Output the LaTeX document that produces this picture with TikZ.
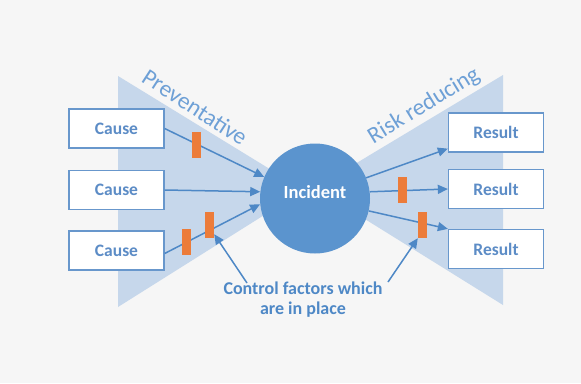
\documentclass[tikz,border=0pt]{standalone}
\usepackage{fontspec}
\setmainfont{Carlito}
\usetikzlibrary{arrows.meta}
\definecolor{bgpage}{RGB}{246,246,246}
\definecolor{trapfill}{RGB}{198,215,235}
\definecolor{circfill}{RGB}{91,148,206}
\definecolor{arrcol}{RGB}{78,136,198}
\definecolor{boxline}{RGB}{104,151,204}
\definecolor{boxtext}{RGB}{92,140,198}
\definecolor{labtext}{RGB}{110,160,214}
\definecolor{barfill}{RGB}{236,124,58}
\tikzset{
  box/.style={draw=boxline, line width=1.3pt, fill=white, minimum width=95pt, minimum height=39pt, inner sep=0pt, font=\fontsize{17.5}{20}\selectfont\bfseries, text=boxtext},
  arr/.style={draw=arrcol, line width=1.5pt, -{Triangle[length=10pt,width=9pt]}},
  bar/.style={fill=barfill, minimum width=9pt, minimum height=26pt, inner sep=0pt},
  side/.style={font=\fontsize{23.5}{25}\selectfont, text=labtext, inner sep=0pt}
}
\begin{document}
\begin{tikzpicture}[x=1pt,y=-1pt]
\useasboundingbox (0,0) rectangle (581,383);
\fill[bgpage] (0,0) rectangle (581,383);
% bow-tie wedges
\fill[trapfill] (118,76) -- (304,190) -- (118,307) -- cycle;
\fill[trapfill] (503,75) -- (315,188) -- (503,305) -- cycle;
% side labels
\node[side, rotate=-33] (prev) at (195,107) {Preventative};
\node[side, rotate=31.5] (risk) at (424,106) {Risk reducing};
% boxes
\node[box] (c1) at (116.5,128.5) {Cause};
\node[box] (c2) at (116.5,190) {Cause};
\node[box] (c3) at (116.5,250.5) {Cause};
\node[box] (r1) at (496,132.5) {Result};
\node[box] (r2) at (496,189) {Result};
\node[box] (r3) at (496,249) {Result};
% incident
\node[circle, fill=circfill, minimum size=110pt, inner sep=0pt] (inc) at (315,198.5) {};
\node[font=\fontsize{18.5}{20}\selectfont\bfseries, text=white] (inctext) at (315,192) {Incident};
% arrows
\draw[arr] (c1.east) -- (inc.157);
\draw[arr] (c2.east) -- (inc.173);
\draw[arr] ([yshift=-3pt]c3.east) -- (inc.186);
\draw[arr] (inc.22) -- ([yshift=4pt]r1.south west);
\draw[arr] (inc.7) -- (r2.west);
\draw[arr] (inc.-13) -- (r3.north west);
% control bars
\node[bar] (bA) at (196,145) {};
\node[bar] (bB) at (186.5,241.5) {};
\node[bar] (bC) at (209.5,225) {};
\node[bar] (bD) at (402,190) {};
\node[bar] (bE) at (422.5,225) {};
% control label
\node[align=center, font=\fontsize{18}{20}\selectfont\bfseries, text=arrcol] (ctrl) at (303,300) {Control factors which\\are in place};
\coordinate (cl) at (247,283);
\coordinate (cr) at (388,282);
\draw[arr] (cl) -- ([yshift=4pt]bC.south east);
\draw[arr] (cr) -- (bE.south west);
\end{tikzpicture}
\end{document}
